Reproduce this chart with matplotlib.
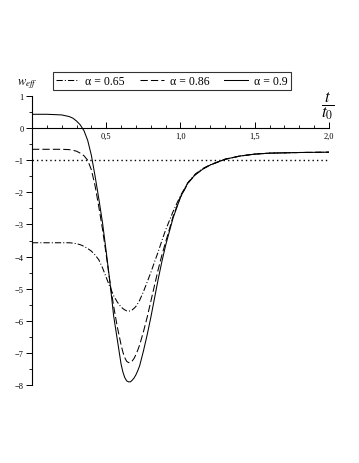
import matplotlib
matplotlib.use("Agg")
import matplotlib.pyplot as plt
from matplotlib.ticker import MultipleLocator, FixedLocator

plt.rcParams['font.family'] = ['Liberation Serif', 'DejaVu Serif']
plt.rcParams['mathtext.fontset'] = 'stix'

# t / t0
t = [0.0, 0.05, 0.1, 0.15, 0.2, 0.25, 0.275, 0.3, 0.325, 0.35, 0.375, 0.4, 0.425,
     0.45, 0.475, 0.5, 0.525, 0.55, 0.575, 0.6, 0.6125, 0.625, 0.6375, 0.65,
     0.6625, 0.675, 0.6875, 0.7, 0.7125, 0.725,
     0.75, 0.775, 0.8, 0.825, 0.85, 0.875, 0.9, 0.95, 1.0, 1.05, 1.1, 1.15, 1.2,
     1.3, 1.4, 1.5, 1.6, 1.7, 1.8, 1.9, 2.0]

# w_eff for alpha = 0.65
w_065 = [-3.57, -3.57, -3.57, -3.57, -3.57, -3.57, -3.58, -3.6, -3.63, -3.68, -3.75,
         -3.83, -3.95, -4.1, -4.35, -4.65, -4.95, -5.22, -5.42, -5.57, -5.62, -5.66,
         -5.69, -5.7, -5.69, -5.66, -5.61, -5.55, -5.46, -5.36,
         -5.1, -4.8, -4.5, -4.17, -3.85, -3.5, -3.17, -2.6,
         -2.1, -1.7, -1.43, -1.26, -1.14, -0.97, -0.87, -0.81, -0.78, -0.77, -0.76,
         -0.755, -0.75]

# w_eff for alpha = 0.86
w_086 = [-0.66, -0.66, -0.66, -0.66, -0.66, -0.67, -0.69, -0.72, -0.78, -0.86, -1.0,
         -1.3, -1.8, -2.45, -3.15, -3.95, -4.8, -5.55, -6.2, -6.75, -6.98, -7.15,
         -7.26, -7.3, -7.3, -7.25, -7.17, -7.05, -6.91, -6.75,
         -6.35, -5.9, -5.4, -4.9, -4.4, -3.95, -3.55, -2.75,
         -2.15, -1.72, -1.45, -1.27, -1.15, -0.97, -0.87, -0.81, -0.78, -0.77, -0.76,
         -0.755, -0.75]

# w_eff for alpha = 0.9
w_09 = [0.43, 0.43, 0.43, 0.42, 0.41, 0.36, 0.31, 0.22, 0.1, -0.08, -0.38, -0.85,
        -1.5, -2.2, -2.95, -3.85, -4.8, -5.85, -6.6, -7.35, -7.6, -7.77, -7.87,
        -7.9, -7.9, -7.85, -7.78, -7.68, -7.55, -7.4,
        -6.95, -6.45, -5.9, -5.3, -4.7, -4.15, -3.65, -2.8, -2.15,
        -1.7, -1.45, -1.28, -1.15, -0.97, -0.87, -0.81, -0.78, -0.77, -0.76,
        -0.755, -0.75]

asymptote = -1.0

fig = plt.figure(figsize=(3.59, 4.64), dpi=100)
ax = fig.add_axes([0.0891, 0.168, 0.8273, 0.623])

ax.plot(t, w_065, color='black', lw=0.75, dashes=(6, 2, 1, 2), label='α = 0.65')
ax.plot(t, w_086, color='black', lw=0.75, dashes=(7, 3), label='α = 0.86')
ax.plot(t, w_09, color='black', lw=0.75, label='α = 0.9')
ax.plot([t[0], t[-1]], [asymptote, asymptote], color='black', lw=1.0, ls=(0, (1, 2.2)))

ax.set_xlim(0, 2.0)
ax.set_ylim(-8, 1)

ax.spines['top'].set_visible(False)
ax.spines['right'].set_visible(False)
ax.spines['bottom'].set_position(('data', 0))
ax.spines['left'].set_linewidth(0.8)
ax.spines['bottom'].set_linewidth(0.8)

ax.xaxis.set_major_locator(FixedLocator([0.5, 1.0, 1.5, 2.0]))
ax.xaxis.set_minor_locator(MultipleLocator(0.1))
ax.set_xticklabels(['0,5', '1,0', '1,5', '2,0'])
ax.tick_params(axis='x', which='major', direction='in', length=4, width=0.7,
               labelsize=6, pad=3)
ax.tick_params(axis='x', which='minor', direction='in', length=2, width=0.6)

ax.yaxis.set_major_locator(MultipleLocator(1))
ax.yaxis.set_minor_locator(MultipleLocator(0.5))
ax.tick_params(axis='y', which='major', direction='out', length=4, width=0.7,
               labelsize=6, pad=2)
ax.tick_params(axis='y', which='minor', direction='out', length=2, width=0.6)

ax.text(-0.03, 1.40, r'$w_{eff}$', fontsize=9, ha='center', va='center')
ax.text(1.993, 0.7, r'$\dfrac{t}{t_0}$', fontsize=12, ha='center', va='center')

leg = ax.legend(loc='center', bbox_to_anchor=(0.47, 1.052), ncol=3, fontsize=8.5,
                frameon=True, fancybox=False, edgecolor='black', handlelength=2.0,
                handletextpad=0.5, columnspacing=1.3, borderpad=0.25)
leg.get_frame().set_linewidth(0.8)

fig.savefig('out.png', dpi=100)
